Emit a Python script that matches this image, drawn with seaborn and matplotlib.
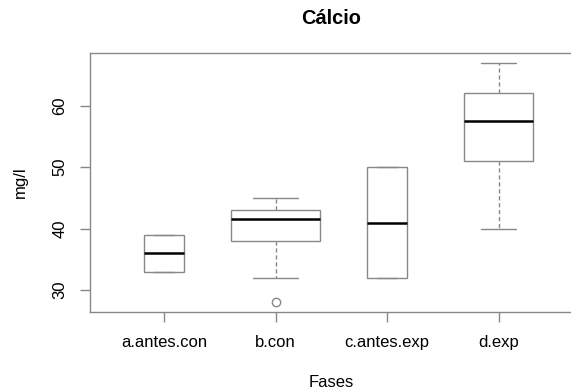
import numpy as np
import pandas as pd
import matplotlib.pyplot as plt
import seaborn as sns

# Cálcio (mg/l) por fase
fases = ["a.antes.con", "b.con", "c.antes.exp", "d.exp"]
a_antes_con = [33, 33, 36, 39, 39]
b_con = [28, 32, 38, 38, 41, 42, 43, 43, 44, 45]
c_antes_exp = [32, 32, 41, 50, 50]
d_exp = [40, 45, 51, 55, 57.5, 60, 62, 65, 67]
# number of samples per phase (box width ~ sqrt(n), like R varwidth)
n_amostras = [2, 10, 2, 6]

valores = [a_antes_con, b_con, c_antes_exp, d_exp]
df = pd.DataFrame({
    "Fases": np.repeat(fases, [len(v) for v in valores]),
    "mg/l": np.concatenate(valores),
})

sns.set_style("ticks")
plt.rcParams["font.family"] = ["Liberation Sans", "DejaVu Sans"]
plt.rcParams["text.color"] = "black"
plt.rcParams["axes.labelcolor"] = "black"
plt.rcParams["xtick.labelcolor"] = "black"
plt.rcParams["ytick.labelcolor"] = "black"

cinza = "#888888"
fig = plt.figure(figsize=(5.71, 3.91), dpi=100)
ax = fig.add_axes([0.158, 0.202, 0.8445, 0.662])

larguras = 0.8 * np.sqrt(np.array(n_amostras) / max(n_amostras))
for fase, w in zip(fases, larguras):
    sns.boxplot(data=df[df["Fases"] == fase], x="Fases", y="mg/l", order=fases,
                width=w, color="white", linecolor=cinza, linewidth=1,
                medianprops={"color": "black", "linewidth": 1.8},
                whiskerprops={"linestyle": (0, (3, 2))},
                capprops={"linestyle": "-"},
                flierprops={"marker": "o", "markerfacecolor": "none",
                            "markeredgecolor": cinza, "markersize": 6},
                ax=ax)

ax.set_xlim(-0.66, 3.66)
ax.set_ylim(26.44, 68.56)
ax.set_yticks([30, 40, 50, 60])
for s in ax.spines.values():
    s.set_visible(True)
    s.set_color(cinza)
    s.set_linewidth(1)
ax.tick_params(axis="both", bottom=True, left=True, length=7.5, width=1,
               color=cinza, labelsize=12)
ax.tick_params(axis="x", pad=9)
ax.tick_params(axis="y", labelrotation=90, pad=9)
for t in ax.get_yticklabels():
    t.set_va("center")

ax.set_title("Cálcio", fontsize=14.4, fontweight="bold", pad=21)
ax.set_xlabel("Fases", fontsize=12)
ax.set_ylabel("mg/l", fontsize=12)
ax.xaxis.set_label_coords(0.5, -0.245)
ax.yaxis.set_label_coords(-0.13, 0.5)

plt.savefig("out.png", dpi=100)
